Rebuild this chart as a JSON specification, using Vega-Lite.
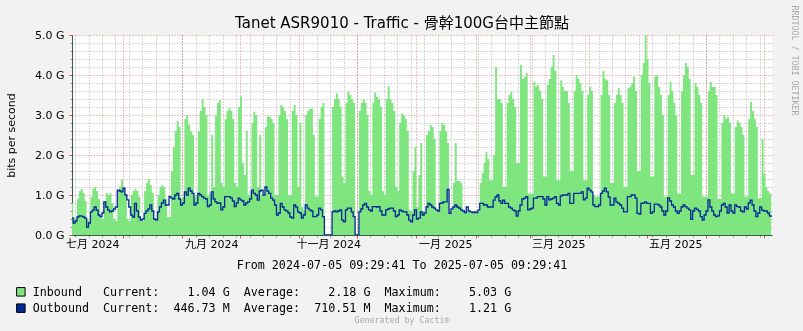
{
  "$schema": "https://vega.github.io/schema/vega-lite/v6.json",
  "width": 700,
  "height": 200,
  "autosize": {"type": "none"},
  "padding": {"left": 72, "top": 35, "right": 31, "bottom": 96},
  "background": "#F2F2F2",
  "config": {"view": {"fill": "#FFFFFF", "stroke": null}, "font": "DejaVu Sans"},
  "data": {"values": [
{"d":"2024-07-05","i":0.8,"o":0.42},{"d":"2024-07-06","i":0.45,"o":0.3},{"d":"2024-07-07","i":0.4,"o":0.35},
{"d":"2024-07-08","i":0.9,"o":0.45},{"d":"2024-07-09","i":1.1,"o":0.48},{"d":"2024-07-10","i":1.15,"o":0.47},{"d":"2024-07-11","i":1.05,"o":0.45},{"d":"2024-07-12","i":0.85,"o":0.42},{"d":"2024-07-13","i":0.4,"o":0.2},{"d":"2024-07-14","i":0.35,"o":0.3},
{"d":"2024-07-15","i":0.95,"o":0.58},{"d":"2024-07-16","i":1.15,"o":0.62},{"d":"2024-07-17","i":1.2,"o":0.7},{"d":"2024-07-18","i":1.1,"o":0.62},{"d":"2024-07-19","i":0.9,"o":0.5},{"d":"2024-07-20","i":0.45,"o":0.46},{"d":"2024-07-21","i":0.4,"o":0.55},
{"d":"2024-07-22","i":0.85,"o":0.83},{"d":"2024-07-23","i":1.05,"o":0.7},{"d":"2024-07-24","i":1.0,"o":0.62},{"d":"2024-07-25","i":1.05,"o":0.58},{"d":"2024-07-26","i":0.8,"o":0.6},{"d":"2024-07-27","i":0.4,"o":0.65},{"d":"2024-07-28","i":0.35,"o":0.7},
{"d":"2024-07-29","i":1.1,"o":1.12},{"d":"2024-07-30","i":1.2,"o":1.1},{"d":"2024-07-31","i":1.38,"o":1.08},{"d":"2024-08-01","i":1.2,"o":1.17},{"d":"2024-08-02","i":1.0,"o":1.0},{"d":"2024-08-03","i":0.4,"o":0.88},{"d":"2024-08-04","i":0.35,"o":0.7},
{"d":"2024-08-05","i":1.0,"o":0.5},{"d":"2024-08-06","i":1.1,"o":0.45},{"d":"2024-08-07","i":1.15,"o":0.79},{"d":"2024-08-08","i":1.1,"o":0.6},{"d":"2024-08-09","i":0.95,"o":0.45},{"d":"2024-08-10","i":0.4,"o":0.37},{"d":"2024-08-11","i":0.35,"o":0.4},
{"d":"2024-08-12","i":1.1,"o":0.54},{"d":"2024-08-13","i":1.3,"o":0.6},{"d":"2024-08-14","i":1.4,"o":0.65},{"d":"2024-08-15","i":1.25,"o":0.75},{"d":"2024-08-16","i":1.05,"o":0.6},{"d":"2024-08-17","i":0.4,"o":0.4},{"d":"2024-08-18","i":0.35,"o":0.37},
{"d":"2024-08-19","i":1.0,"o":0.58},{"d":"2024-08-20","i":1.2,"o":0.7},{"d":"2024-08-21","i":1.25,"o":0.8},{"d":"2024-08-22","i":1.2,"o":0.87},{"d":"2024-08-23","i":0.9,"o":0.75},{"d":"2024-08-24","i":0.45,"o":0.75},{"d":"2024-08-25","i":0.45,"o":0.96},
{"d":"2024-08-26","i":1.6,"o":0.92},{"d":"2024-08-27","i":2.2,"o":0.9},{"d":"2024-08-28","i":2.6,"o":1.0},{"d":"2024-08-29","i":2.85,"o":1.04},{"d":"2024-08-30","i":2.7,"o":0.9},{"d":"2024-08-31","i":0.9,"o":0.75},{"d":"2024-09-01","i":0.95,"o":0.8},
{"d":"2024-09-02","i":2.9,"o":1.08},{"d":"2024-09-03","i":3.0,"o":1.0},{"d":"2024-09-04","i":2.75,"o":1.17},{"d":"2024-09-05","i":2.6,"o":1.1},{"d":"2024-09-06","i":2.5,"o":1.04},{"d":"2024-09-07","i":0.95,"o":0.75},{"d":"2024-09-08","i":1.0,"o":0.8},
{"d":"2024-09-09","i":2.6,"o":1.04},{"d":"2024-09-10","i":3.1,"o":1.0},{"d":"2024-09-11","i":3.4,"o":0.96},{"d":"2024-09-12","i":3.2,"o":0.92},{"d":"2024-09-13","i":3.0,"o":0.9},{"d":"2024-09-14","i":1.0,"o":0.71},{"d":"2024-09-15","i":1.05,"o":0.75},
{"d":"2024-09-16","i":2.5,"o":1.08},{"d":"2024-09-17","i":1.2,"o":0.9},{"d":"2024-09-18","i":3.0,"o":0.83},{"d":"2024-09-19","i":3.3,"o":0.79},{"d":"2024-09-20","i":3.37,"o":0.8},{"d":"2024-09-21","i":1.3,"o":0.63},{"d":"2024-09-22","i":1.2,"o":0.7},
{"d":"2024-09-23","i":2.9,"o":0.96},{"d":"2024-09-24","i":3.1,"o":0.96},{"d":"2024-09-25","i":3.17,"o":0.96},{"d":"2024-09-26","i":3.1,"o":0.92},{"d":"2024-09-27","i":2.9,"o":0.85},{"d":"2024-09-28","i":1.3,"o":0.71},{"d":"2024-09-29","i":1.2,"o":0.8},
{"d":"2024-09-30","i":3.2,"o":0.92},{"d":"2024-10-01","i":3.46,"o":0.88},{"d":"2024-10-02","i":1.8,"o":0.85},{"d":"2024-10-03","i":1.5,"o":0.75},{"d":"2024-10-04","i":2.6,"o":0.8},{"d":"2024-10-05","i":1.0,"o":0.83},{"d":"2024-10-06","i":1.1,"o":0.9},
{"d":"2024-10-07","i":2.8,"o":1.12},{"d":"2024-10-08","i":3.08,"o":1.04},{"d":"2024-10-09","i":3.0,"o":1.0},{"d":"2024-10-10","i":1.2,"o":0.87},{"d":"2024-10-11","i":2.5,"o":1.1},{"d":"2024-10-12","i":1.0,"o":1.12},{"d":"2024-10-13","i":1.0,"o":1.0},
{"d":"2024-10-14","i":2.7,"o":1.2},{"d":"2024-10-15","i":2.96,"o":1.1},{"d":"2024-10-16","i":2.96,"o":1.04},{"d":"2024-10-17","i":2.9,"o":0.92},{"d":"2024-10-18","i":2.8,"o":0.87},{"d":"2024-10-19","i":1.0,"o":0.75},{"d":"2024-10-20","i":1.0,"o":0.5},
{"d":"2024-10-21","i":3.0,"o":0.55},{"d":"2024-10-22","i":3.25,"o":0.79},{"d":"2024-10-23","i":3.2,"o":0.7},{"d":"2024-10-24","i":3.1,"o":0.63},{"d":"2024-10-25","i":2.9,"o":0.6},{"d":"2024-10-26","i":1.0,"o":0.55},{"d":"2024-10-27","i":1.0,"o":0.45},
{"d":"2024-10-28","i":3.1,"o":0.42},{"d":"2024-10-29","i":3.25,"o":0.75},{"d":"2024-10-30","i":3.0,"o":0.7},{"d":"2024-10-31","i":1.2,"o":0.58},{"d":"2024-11-01","i":2.8,"o":0.55},{"d":"2024-11-02","i":0.7,"o":0.42},{"d":"2024-11-03","i":0.6,"o":0.5},
{"d":"2024-11-04","i":3.0,"o":0.75},{"d":"2024-11-05","i":3.1,"o":0.67},{"d":"2024-11-06","i":3.15,"o":0.63},{"d":"2024-11-07","i":3.17,"o":0.6},{"d":"2024-11-08","i":2.5,"o":0.46},{"d":"2024-11-09","i":0.96,"o":0.46},{"d":"2024-11-10","i":0.96,"o":0.5},
{"d":"2024-11-11","i":2.9,"o":0.67},{"d":"2024-11-12","i":3.2,"o":0.63},{"d":"2024-11-13","i":3.3,"o":0.46},{"d":"2024-11-14","i":0,"o":0},{"d":"2024-11-15","i":0,"o":0},{"d":"2024-11-16","i":0,"o":0},{"d":"2024-11-17","i":0,"o":0},
{"d":"2024-11-18","i":3.2,"o":0.58},{"d":"2024-11-19","i":3.4,"o":0.6},{"d":"2024-11-20","i":3.54,"o":0.58},{"d":"2024-11-21","i":3.4,"o":0.6},{"d":"2024-11-22","i":3.2,"o":0.63},{"d":"2024-11-23","i":1.46,"o":0.37},{"d":"2024-11-24","i":1.3,"o":0.33},
{"d":"2024-11-25","i":3.3,"o":0.63},{"d":"2024-11-26","i":3.58,"o":0.67},{"d":"2024-11-27","i":3.5,"o":0.67},{"d":"2024-11-28","i":3.4,"o":0.58},{"d":"2024-11-29","i":3.3,"o":0.46},{"d":"2024-11-30","i":0,"o":0},{"d":"2024-12-01","i":0,"o":0},
{"d":"2024-12-02","i":3.1,"o":0.58},{"d":"2024-12-03","i":3.3,"o":0.65},{"d":"2024-12-04","i":3.4,"o":0.75},{"d":"2024-12-05","i":3.3,"o":0.79},{"d":"2024-12-06","i":3.0,"o":0.7},{"d":"2024-12-07","i":1.1,"o":0.63},{"d":"2024-12-08","i":1.0,"o":0.6},
{"d":"2024-12-09","i":3.3,"o":0.71},{"d":"2024-12-10","i":3.56,"o":0.71},{"d":"2024-12-11","i":3.45,"o":0.7},{"d":"2024-12-12","i":3.4,"o":0.71},{"d":"2024-12-13","i":3.2,"o":0.6},{"d":"2024-12-14","i":1.1,"o":0.5},{"d":"2024-12-15","i":1.0,"o":0.5},
{"d":"2024-12-16","i":3.4,"o":0.63},{"d":"2024-12-17","i":3.72,"o":0.65},{"d":"2024-12-18","i":3.4,"o":0.67},{"d":"2024-12-19","i":3.3,"o":0.67},{"d":"2024-12-20","i":3.1,"o":0.6},{"d":"2024-12-21","i":1.2,"o":0.46},{"d":"2024-12-22","i":1.1,"o":0.5},
{"d":"2024-12-23","i":2.8,"o":0.63},{"d":"2024-12-24","i":3.04,"o":0.6},{"d":"2024-12-25","i":3.0,"o":0.58},{"d":"2024-12-26","i":2.9,"o":0.58},{"d":"2024-12-27","i":2.6,"o":0.5},{"d":"2024-12-28","i":0.62,"o":0.37},{"d":"2024-12-29","i":0.6,"o":0.33},
{"d":"2024-12-30","i":1.6,"o":0.5},{"d":"2024-12-31","i":2.2,"o":0.63},{"d":"2025-01-01","i":0.7,"o":0.4},{"d":"2025-01-02","i":1.5,"o":0.42},{"d":"2025-01-03","i":2.3,"o":0.58},{"d":"2025-01-04","i":0.6,"o":0.5},{"d":"2025-01-05","i":0.55,"o":0.55},
{"d":"2025-01-06","i":2.5,"o":0.7},{"d":"2025-01-07","i":2.6,"o":0.79},{"d":"2025-01-08","i":2.75,"o":0.75},{"d":"2025-01-09","i":2.7,"o":0.7},{"d":"2025-01-10","i":2.4,"o":0.67},{"d":"2025-01-11","i":0.6,"o":0.63},{"d":"2025-01-12","i":0.6,"o":0.6},
{"d":"2025-01-13","i":2.6,"o":0.79},{"d":"2025-01-14","i":2.8,"o":0.8},{"d":"2025-01-15","i":2.75,"o":0.83},{"d":"2025-01-16","i":2.6,"o":0.83},{"d":"2025-01-17","i":2.3,"o":1.14},{"d":"2025-01-18","i":0.6,"o":0.54},{"d":"2025-01-19","i":0.6,"o":0.65},
{"d":"2025-01-20","i":1.3,"o":0.7},{"d":"2025-01-21","i":2.3,"o":0.75},{"d":"2025-01-22","i":1.35,"o":0.7},{"d":"2025-01-23","i":1.35,"o":0.67},{"d":"2025-01-24","i":1.3,"o":0.63},{"d":"2025-01-25","i":0.58,"o":0.6},{"d":"2025-01-26","i":0.58,"o":0.56},
{"d":"2025-01-27","i":0.6,"o":0.7},{"d":"2025-01-28","i":0.6,"o":0.6},{"d":"2025-01-29","i":0.55,"o":0.58},{"d":"2025-01-30","i":0.58,"o":0.56},{"d":"2025-01-31","i":0.6,"o":0.58},{"d":"2025-02-01","i":0.58,"o":0.56},{"d":"2025-02-02","i":0.58,"o":0.62},
{"d":"2025-02-03","i":1.3,"o":0.79},{"d":"2025-02-04","i":1.55,"o":0.79},{"d":"2025-02-05","i":1.8,"o":0.75},{"d":"2025-02-06","i":2.08,"o":0.75},{"d":"2025-02-07","i":1.9,"o":0.7},{"d":"2025-02-08","i":1.37,"o":0.7},{"d":"2025-02-09","i":1.37,"o":0.7},
{"d":"2025-02-10","i":2.0,"o":0.87},{"d":"2025-02-11","i":4.2,"o":0.95},{"d":"2025-02-12","i":3.4,"o":1.0},{"d":"2025-02-13","i":3.4,"o":0.85},{"d":"2025-02-14","i":3.3,"o":0.79},{"d":"2025-02-15","i":1.2,"o":0.87},{"d":"2025-02-16","i":1.2,"o":0.79},
{"d":"2025-02-17","i":3.3,"o":0.79},{"d":"2025-02-18","i":3.5,"o":0.7},{"d":"2025-02-19","i":3.58,"o":0.67},{"d":"2025-02-20","i":3.4,"o":0.63},{"d":"2025-02-21","i":3.2,"o":0.6},{"d":"2025-02-22","i":1.8,"o":0.47},{"d":"2025-02-23","i":1.8,"o":0.6},
{"d":"2025-02-24","i":4.25,"o":0.75},{"d":"2025-02-25","i":3.9,"o":0.9},{"d":"2025-02-26","i":3.95,"o":0.92},{"d":"2025-02-27","i":4.05,"o":0.96},{"d":"2025-02-28","i":1.04,"o":0.63},{"d":"2025-03-01","i":1.04,"o":0.65},{"d":"2025-03-02","i":1.04,"o":0.67},
{"d":"2025-03-03","i":3.83,"o":0.92},{"d":"2025-03-04","i":3.7,"o":0.92},{"d":"2025-03-05","i":3.75,"o":0.96},{"d":"2025-03-06","i":3.6,"o":0.96},{"d":"2025-03-07","i":3.4,"o":0.96},{"d":"2025-03-08","i":1.46,"o":0.9},{"d":"2025-03-09","i":1.46,"o":0.75},
{"d":"2025-03-10","i":3.75,"o":0.96},{"d":"2025-03-11","i":3.9,"o":0.88},{"d":"2025-03-12","i":4.2,"o":0.9},{"d":"2025-03-13","i":4.5,"o":0.92},{"d":"2025-03-14","i":4.1,"o":0.96},{"d":"2025-03-15","i":1.37,"o":0.79},{"d":"2025-03-16","i":1.37,"o":0.75},
{"d":"2025-03-17","i":3.87,"o":0.98},{"d":"2025-03-18","i":3.7,"o":1.0},{"d":"2025-03-19","i":3.6,"o":1.0},{"d":"2025-03-20","i":3.6,"o":1.0},{"d":"2025-03-21","i":3.3,"o":1.04},{"d":"2025-03-22","i":1.6,"o":0.79},{"d":"2025-03-23","i":1.6,"o":0.79},
{"d":"2025-03-24","i":3.6,"o":1.04},{"d":"2025-03-25","i":4.0,"o":1.04},{"d":"2025-03-26","i":3.9,"o":1.04},{"d":"2025-03-27","i":3.8,"o":1.04},{"d":"2025-03-28","i":3.6,"o":1.08},{"d":"2025-03-29","i":1.37,"o":0.88},{"d":"2025-03-30","i":1.37,"o":0.92},
{"d":"2025-03-31","i":3.5,"o":1.17},{"d":"2025-04-01","i":3.7,"o":1.12},{"d":"2025-04-02","i":3.6,"o":1.08},{"d":"2025-04-03","i":1.0,"o":0.75},{"d":"2025-04-04","i":0.96,"o":0.71},{"d":"2025-04-05","i":0.96,"o":0.71},{"d":"2025-04-06","i":0.96,"o":0.75},
{"d":"2025-04-07","i":3.5,"o":1.04},{"d":"2025-04-08","i":4.1,"o":1.1},{"d":"2025-04-09","i":3.9,"o":1.17},{"d":"2025-04-10","i":3.87,"o":1.08},{"d":"2025-04-11","i":3.5,"o":0.95},{"d":"2025-04-12","i":1.3,"o":0.75},{"d":"2025-04-13","i":1.3,"o":0.75},
{"d":"2025-04-14","i":3.3,"o":0.92},{"d":"2025-04-15","i":3.5,"o":0.83},{"d":"2025-04-16","i":3.67,"o":0.79},{"d":"2025-04-17","i":3.5,"o":0.75},{"d":"2025-04-18","i":3.3,"o":0.67},{"d":"2025-04-19","i":1.2,"o":0.58},{"d":"2025-04-20","i":1.2,"o":0.58},
{"d":"2025-04-21","i":3.67,"o":0.96},{"d":"2025-04-22","i":3.7,"o":0.96},{"d":"2025-04-23","i":3.8,"o":1.0},{"d":"2025-04-24","i":3.96,"o":1.0},{"d":"2025-04-25","i":3.6,"o":0.92},{"d":"2025-04-26","i":1.6,"o":0.54},{"d":"2025-04-27","i":1.6,"o":0.52},
{"d":"2025-04-28","i":4.0,"o":0.79},{"d":"2025-04-29","i":4.3,"o":0.8},{"d":"2025-04-30","i":5.03,"o":0.83},{"d":"2025-05-01","i":4.4,"o":0.79},{"d":"2025-05-02","i":3.8,"o":0.79},{"d":"2025-05-03","i":1.46,"o":0.54},{"d":"2025-05-04","i":1.46,"o":0.58},
{"d":"2025-05-05","i":3.96,"o":0.77},{"d":"2025-05-06","i":4.0,"o":0.77},{"d":"2025-05-07","i":3.7,"o":0.75},{"d":"2025-05-08","i":3.5,"o":0.7},{"d":"2025-05-09","i":3.0,"o":0.6},{"d":"2025-05-10","i":0.96,"o":0.5},{"d":"2025-05-11","i":0.96,"o":0.6},
{"d":"2025-05-12","i":3.5,"o":0.93},{"d":"2025-05-13","i":3.83,"o":0.85},{"d":"2025-05-14","i":3.6,"o":0.75},{"d":"2025-05-15","i":3.3,"o":0.7},{"d":"2025-05-16","i":3.0,"o":0.6},{"d":"2025-05-17","i":1.04,"o":0.54},{"d":"2025-05-18","i":1.04,"o":0.6},
{"d":"2025-05-19","i":3.6,"o":0.7},{"d":"2025-05-20","i":4.0,"o":0.75},{"d":"2025-05-21","i":4.3,"o":0.71},{"d":"2025-05-22","i":4.2,"o":0.67},{"d":"2025-05-23","i":3.9,"o":0.63},{"d":"2025-05-24","i":1.5,"o":0.39},{"d":"2025-05-25","i":1.5,"o":0.6},
{"d":"2025-05-26","i":3.8,"o":0.67},{"d":"2025-05-27","i":3.7,"o":0.64},{"d":"2025-05-28","i":3.5,"o":0.6},{"d":"2025-05-29","i":3.3,"o":0.46},{"d":"2025-05-30","i":0.96,"o":0.37},{"d":"2025-05-31","i":0.96,"o":0.5},{"d":"2025-06-01","i":0.96,"o":0.6},
{"d":"2025-06-02","i":3.6,"o":0.88},{"d":"2025-06-03","i":3.83,"o":0.7},{"d":"2025-06-04","i":3.7,"o":0.6},{"d":"2025-06-05","i":3.7,"o":0.5},{"d":"2025-06-06","i":3.5,"o":0.46},{"d":"2025-06-07","i":0.9,"o":0.48},{"d":"2025-06-08","i":0.9,"o":0.6},
{"d":"2025-06-09","i":2.8,"o":0.75},{"d":"2025-06-10","i":3.0,"o":0.79},{"d":"2025-06-11","i":2.9,"o":0.7},{"d":"2025-06-12","i":2.95,"o":0.55},{"d":"2025-06-13","i":2.8,"o":0.75},{"d":"2025-06-14","i":1.04,"o":0.6},{"d":"2025-06-15","i":1.04,"o":0.55},
{"d":"2025-06-16","i":2.7,"o":0.75},{"d":"2025-06-17","i":2.87,"o":0.71},{"d":"2025-06-18","i":2.8,"o":0.7},{"d":"2025-06-19","i":2.7,"o":0.6},{"d":"2025-06-20","i":2.5,"o":0.58},{"d":"2025-06-21","i":0.96,"o":0.7},{"d":"2025-06-22","i":0.96,"o":0.65},
{"d":"2025-06-23","i":2.9,"o":0.8},{"d":"2025-06-24","i":3.33,"o":0.87},{"d":"2025-06-25","i":3.1,"o":0.75},{"d":"2025-06-26","i":2.9,"o":0.6},{"d":"2025-06-27","i":2.7,"o":0.46},{"d":"2025-06-28","i":0.92,"o":0.55},{"d":"2025-06-29","i":0.92,"o":0.7},
{"d":"2025-06-30","i":2.4,"o":0.62},{"d":"2025-07-01","i":1.54,"o":0.6},{"d":"2025-07-02","i":1.2,"o":0.6},{"d":"2025-07-03","i":1.1,"o":0.55},{"d":"2025-07-04","i":1.04,"o":0.48},{"d":"2025-07-05","i":1.04,"o":0.447}
  ]},
  "layer": [
    {
      "mark": {"type": "area", "interpolate": "step-after", "clip": true, "blend": "multiply"},
      "encoding": {
        "x": {"field": "d", "type": "temporal",
          "scale": {"type": "utc", "domain": [{"year": 2024, "month": 7, "date": 5, "hours": 9, "minutes": 29, "seconds": 41, "utc": true}, {"year": 2025, "month": 7, "date": 5, "hours": 9, "minutes": 29, "seconds": 41, "utc": true}]},
          "axis": {"orient": "bottom", "tickCount": {"interval": "week", "step": 1}, "grid": true, "gridColor": "#8F8F8F", "gridOpacity": 0.7, "gridDash": [1, 2], "labels": false, "ticks": true, "tickSize": 2, "tickColor": "#8F8F8F", "domain": false,
            "title": "Generated by Cacti®", "titleX": 329.5, "titleY": 85, "titleFont": "DejaVu Sans Mono", "titleFontSize": 8.3, "titleFontWeight": "normal", "titleColor": "#A8A8A8", "titleBaseline": "middle", "titleAlign": "center"}},
        "y": {"field": "i", "type": "quantitative", "scale": {"domain": [0, 5], "nice": false},
          "axis": {"orient": "left", "values": [0.2, 0.4, 0.6, 0.8, 1.2, 1.4, 1.6, 1.8, 2.2, 2.4, 2.6, 2.8, 3.2, 3.4, 3.6, 3.8, 4.2, 4.4, 4.6, 4.8], "grid": true, "gridColor": "#8F8F8F", "gridOpacity": 0.7, "gridDash": [1, 2], "labels": false, "ticks": true, "tickSize": 2, "tickColor": "#8F8F8F", "domain": false, "title": null}},
        "fill": {"datum": "Inbound", "type": "nominal",
          "scale": {"domain": ["Inbound", "Outbound"], "range": ["#7FE67F", "#002A97"]},
          "legend": {"orient": "none", "legendX": -57, "legendY": 251, "title": null, "direction": "vertical", "padding": 0,
            "symbolType": "square", "symbolSize": 72, "symbolStrokeColor": "#000000", "symbolStrokeWidth": 1, "symbolOpacity": 1,
            "labelFont": "DejaVu Sans Mono", "labelFontSize": 11.7, "labelColor": "#000000", "labelLimit": 700, "labelOffset": 6, "rowPadding": 2.3,
            "labelExpr": "datum.value === 'Inbound' ? 'Inbound\u00a0\u00a0\u00a0Current:\u00a0\u00a0\u00a0\u00a01.04\u00a0G\u00a0\u00a0Average:\u00a0\u00a0\u00a0\u00a02.18\u00a0G\u00a0\u00a0Maximum:\u00a0\u00a0\u00a0\u00a05.03\u00a0G' : 'Outbound\u00a0\u00a0Current:\u00a0\u00a0446.73\u00a0M\u00a0\u00a0Average:\u00a0\u00a0710.51\u00a0M\u00a0\u00a0Maximum:\u00a0\u00a0\u00a0\u00a01.21\u00a0G'"}}
      }
    },
    {
      "mark": {"type": "line", "interpolate": "step-after", "clip": true, "color": "#002A97", "strokeWidth": 1.3},
      "encoding": {
        "x": {"field": "d", "type": "temporal",
          "scale": {"type": "utc", "domain": [{"year": 2024, "month": 7, "date": 5, "hours": 9, "minutes": 29, "seconds": 41, "utc": true}, {"year": 2025, "month": 7, "date": 5, "hours": 9, "minutes": 29, "seconds": 41, "utc": true}]},
          "axis": {"orient": "bottom", "tickCount": {"interval": "month", "step": 1}, "grid": true, "gridColor": "#DE4F4F", "gridOpacity": 0.7, "gridDash": [1, 2], "labels": false, "ticks": true, "tickSize": 3, "tickColor": "#DE4F4F", "domain": true, "domainColor": "#3A5A50", "domainWidth": 1,
            "title": "From 2024-07-05 09:29:41 To 2025-07-05 09:29:41", "titleX": 329.5, "titleY": 29, "titleFont": "DejaVu Sans Mono", "titleFontSize": 11.7, "titleFontWeight": "normal", "titleColor": "#000000", "titleBaseline": "middle", "titleAlign": "center"}},
        "y": {"field": "o", "type": "quantitative", "scale": {"domain": [0, 5], "nice": false},
          "axis": {"orient": "left", "values": [0, 1, 2, 3, 4, 5], "grid": true, "gridColor": "#DE4F4F", "gridOpacity": 0.7, "gridDash": [1, 2], "labelExpr": "format(datum.value, '.1f') + ' G'", "labelFont": "DejaVu Sans", "labelFontSize": 11, "labelColor": "#000000", "labelPadding": 5, "labelOverlap": false, "labelFlush": false, "ticks": true, "tickSize": 3, "tickColor": "#DE4F4F", "domain": true, "domainColor": "#3A5A50", "domainWidth": 1,
            "title": "bits per second", "titleX": -61, "titleY": 100, "titleAngle": -90, "titleFont": "DejaVu Sans", "titleFontSize": 11, "titleFontWeight": "normal", "titleColor": "#000000", "titleBaseline": "middle", "titleAlign": "center"}}
      }
    },
    {
      "mark": {"type": "line", "opacity": 0},
      "encoding": {
        "x": {"field": "d", "type": "temporal",
          "scale": {"type": "utc", "domain": [{"year": 2024, "month": 7, "date": 5, "hours": 9, "minutes": 29, "seconds": 41, "utc": true}, {"year": 2025, "month": 7, "date": 5, "hours": 9, "minutes": 29, "seconds": 41, "utc": true}]},
          "axis": {"orient": "top", "labels": false, "ticks": false, "domain": false, "grid": false,
            "title": "Tanet ASR9010 - Traffic - 骨幹100G台中主節點", "titleX": 329.5, "titleY": -13, "titleFont": "DejaVu Sans, Noto Sans CJK TC", "titleFontSize": 15, "titleFontWeight": "normal", "titleColor": "#000000", "titleBaseline": "middle", "titleAlign": "center"}},
        "y": {"field": "o", "type": "quantitative", "scale": {"domain": [0, 5], "nice": false},
          "axis": {"orient": "right", "labels": false, "ticks": false, "domain": false, "grid": false,
            "title": "RRDTOOL / TOBI OETIKER", "titleX": 21.5, "titleY": 25, "titleAngle": 90, "titleFont": "DejaVu Sans Mono", "titleFontSize": 8.3, "titleFontWeight": "normal", "titleColor": "#A8A8A8", "titleBaseline": "middle", "titleAlign": "center"}}
      }
    },
    {
      "mark": {"type": "line", "opacity": 0},
      "encoding": {
        "x": {"field": "d", "type": "temporal",
          "scale": {"type": "utc", "domain": [{"year": 2024, "month": 7, "date": 5, "hours": 9, "minutes": 29, "seconds": 41, "utc": true}, {"year": 2025, "month": 7, "date": 5, "hours": 9, "minutes": 29, "seconds": 41, "utc": true}]},
          "axis": {"orient": "bottom", "values": [{"year": 2024, "month": 7, "date": 16, "utc": true}, {"year": 2024, "month": 9, "date": 16, "utc": true}, {"year": 2024, "month": 11, "date": 16, "utc": true}, {"year": 2025, "month": 1, "date": 16, "utc": true}, {"year": 2025, "month": 3, "date": 16, "utc": true}, {"year": 2025, "month": 5, "date": 16, "utc": true}],
            "labelExpr": "['一月','二月','三月','四月','五月','六月','七月','八月','九月','十月','十一月','十二月'][utcmonth(datum.value)] + ' ' + utcyear(datum.value)",
            "labelFont": "DejaVu Sans, Noto Sans CJK TC", "labelFontSize": 11, "labelColor": "#000000", "labelPadding": 3, "labelOverlap": false, "labelFlush": false, "ticks": false, "domain": false, "grid": false, "title": null}},
        "y": {"field": "o", "type": "quantitative", "scale": {"domain": [0, 5], "nice": false}, "axis": null}
      }
    }
  ],
  "resolve": {"axis": {"x": "independent", "y": "independent"}}
}
